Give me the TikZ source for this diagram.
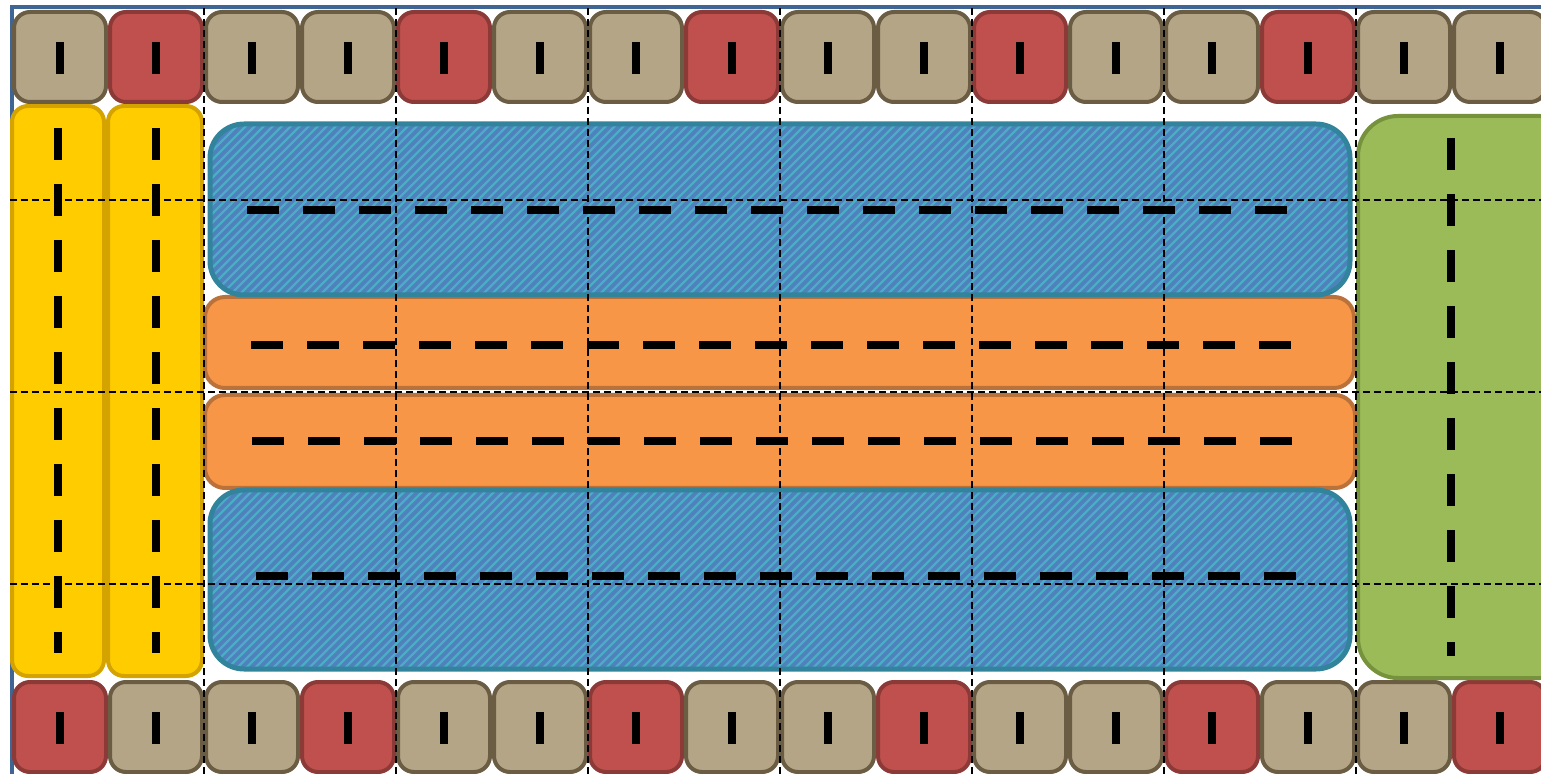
\documentclass[tikz,border=0pt]{standalone}

\definecolor{tanfill}{HTML}{B5A587}
\definecolor{tanedge}{HTML}{6B5D43}
\definecolor{redfill}{HTML}{C0504D}
\definecolor{rededge}{HTML}{8C3A38}
\definecolor{goldfill}{HTML}{FFCC00}
\definecolor{goldedge}{HTML}{D4A300}
\definecolor{bluefill}{HTML}{4F81BD}
\definecolor{hatchcol}{HTML}{4BACC6}
\definecolor{blueedge}{HTML}{31849B}
\definecolor{orangefill}{HTML}{F79646}
\definecolor{orangeedge}{HTML}{BA713A}
\definecolor{greenfill}{HTML}{9BBB59}
\definecolor{greenedge}{HTML}{76923C}
\definecolor{frameblue}{HTML}{3F6594}

\tikzset{
  tile/.style={line width=2pt, rounded corners=8pt},
  tantile/.style={fill=tanfill, draw=tanedge},
  redtile/.style={fill=redfill, draw=rededge},
  column/.style={fill=goldfill, draw=goldedge, line width=2pt, rounded corners=8pt},
  bluebox/.style={draw=blueedge, line width=2.5pt, rounded corners=17pt},
  orangebox/.style={fill=orangefill, draw=orangeedge, line width=2pt, rounded corners=10pt},
  lanedash/.style={line width=4pt, dash pattern=on 16pt off 12pt},
  gridline/.style={line width=1pt, dash pattern=on 3.5pt off 2pt}
}

\begin{document}
\begin{tikzpicture}[x=0.5pt,y=-0.5pt]

\clip (0,0) rectangle (1541,774);

% Outer frame
\draw[frameblue, line width=2.2pt] (12,7) rectangle (1580,800);

% Yellow columns
\draw[column] (12,106) rectangle (104,676);
\draw[column] (108,106) rectangle (202,676);

% Top row of tiles
\foreach \s [count=\i from 0] in {tantile,redtile,tantile,tantile,redtile,tantile,tantile,redtile,
  tantile,tantile,redtile,tantile,tantile,redtile,tantile,tantile}{
  \draw[tile,\s] ({14+96*\i},12) rectangle ++(92,90);
  \fill ({56+96*\i},42) rectangle ++(8,32);
}

% Bottom row of tiles
\foreach \s [count=\i from 0] in {redtile,tantile,tantile,redtile,tantile,tantile,redtile,tantile,
  tantile,redtile,tantile,tantile,redtile,tantile,tantile,redtile}{
  \draw[tile,\s] ({14+96*\i},682) rectangle ++(92,90);
  \fill ({56+96*\i},712) rectangle ++(8,32);
}

% Green column
\draw[fill=greenfill, draw=greenedge, line width=2pt, rounded corners=20pt]
  (1358,116) rectangle (1580,678);

% Orange strips
\draw[orangebox] (205,297) rectangle (1354,388);
\draw[orangebox] (205,395) rectangle (1355,488);

% Upper blue strip
\begin{scope}
\clip[rounded corners=17pt] (210,124) rectangle (1350,295);
\fill[bluefill] (200,100) rectangle (1360,300);
\foreach \x in {0,9,...,1400}
  \draw[hatchcol, line width=1.2pt] (\x,300) -- ++(200,-200);
\end{scope}
\draw[bluebox] (210,124) rectangle (1350,295);

% Lower blue strip
\begin{scope}
\clip[rounded corners=17pt] (210,490) rectangle (1350,669);
\fill[bluefill] (200,480) rectangle (1360,680);
\foreach \x in {0,9,...,1400}
  \draw[hatchcol, line width=1.2pt] (\x,680) -- ++(200,-200);
\end{scope}
\draw[bluebox] (210,490) rectangle (1350,669);

% Lane markings
\draw[lanedash] (247,210) -- (1287,210);
\draw[lanedash] (251,345) -- (1291,345);
\draw[lanedash] (252,441) -- (1292,441);
\draw[lanedash] (256,576) -- (1296,576);
\draw[lanedash] (58,128) -- (58,653);
\draw[lanedash] (156,128) -- (156,653);
\draw[lanedash] (1451,138) -- (1451,656);

% Grid
\foreach \x in {204,396,...,1356}
  \draw[gridline] (\x,8) -- (\x,774);
\foreach \y in {200,392,584}
  \draw[gridline] (10,\y) -- (1541,\y);

\end{tikzpicture}
\end{document}
